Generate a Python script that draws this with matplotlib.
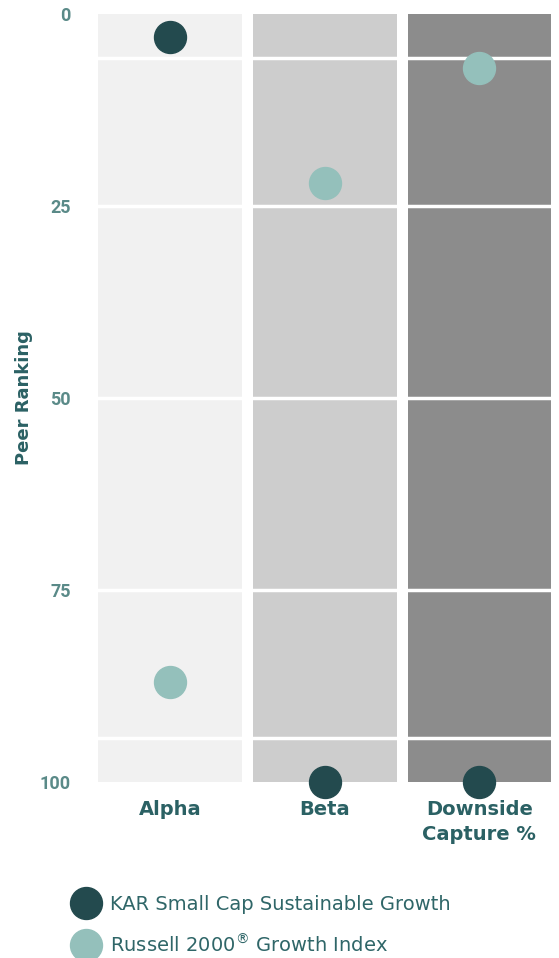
import numpy as np
import matplotlib
matplotlib.use('Agg')
import matplotlib.pyplot as plt
from matplotlib.lines import Line2D

# ----------------------------------------------
# Data
categories = ['Alpha', 'Beta', 'Downside\nCapture %']
series_names = ['KAR Small Cap Sustainable Growth',
                r'Russell 2000$^{\circledR}$ Growth Index']
kar_rank = [3, 100, 100]
russell_rank = [87, 22, 7]
y_ticks = [0, 25, 50, 75, 100]
grid_lines = [5.7, 25, 50, 75, 94.3]

# Colours
bar_colors = ['#f1f1f1', '#cdcdcd', '#8c8c8c']
dark = '#234a4e'
light = '#94c0bb'
tick_color = '#5a8a88'
label_color = '#2b6164'

plt.rcParams['font.family'] = ['DejaVu Sans']

fig = plt.figure(figsize=(5.59, 9.58), dpi=100)
ax = fig.add_axes([0.166, 0.1837, 0.830, 0.8017])

x = np.arange(len(categories))
ax.bar(x, 100, width=0.93, color=bar_colors, zorder=1)

# white horizontal lines across the columns
for g in grid_lines:
    ax.axhline(g, color='white', lw=2.5, zorder=2)

ax.plot(x, kar_rank, 'o', ms=23, color=dark, zorder=3, clip_on=False)
ax.plot(x, russell_rank, 'o', ms=23, color=light, zorder=3, clip_on=False)

ax.set_xlim(-0.5, 2.5)
ax.set_ylim(100, 0)
ax.set_yticks(y_ticks)
ax.set_yticklabels([str(t) for t in y_ticks], fontweight='bold',
                   fontsize=13, color=tick_color, family=['Roboto', 'DejaVu Sans'])
ax.set_xticks(x)
ax.set_xticklabels(categories, fontweight='bold', fontsize=14, color=label_color,
                   linespacing=1.4)
ax.tick_params(axis='y', length=0, pad=16)
ax.tick_params(axis='x', length=0, pad=13)
ax.set_ylabel('Peer Ranking', fontweight='bold', fontsize=13, color=label_color)
ax.yaxis.set_label_coords(-0.128, 0.5)
for s in ax.spines.values():
    s.set_visible(False)

handles = [Line2D([], [], marker='o', ls='', ms=23, color=dark),
           Line2D([], [], marker='o', ls='', ms=23, color=light)]
leg = fig.legend(handles, series_names, loc='upper left',
                 bbox_to_anchor=(0.1225, 0.0736), frameon=False,
                 fontsize=14, labelspacing=1.0, handletextpad=0.75,
                 borderaxespad=0, handlelength=1.0)
for t in leg.get_texts():
    t.set_color('#2f6668')

fig.savefig('out.png', dpi=100)
